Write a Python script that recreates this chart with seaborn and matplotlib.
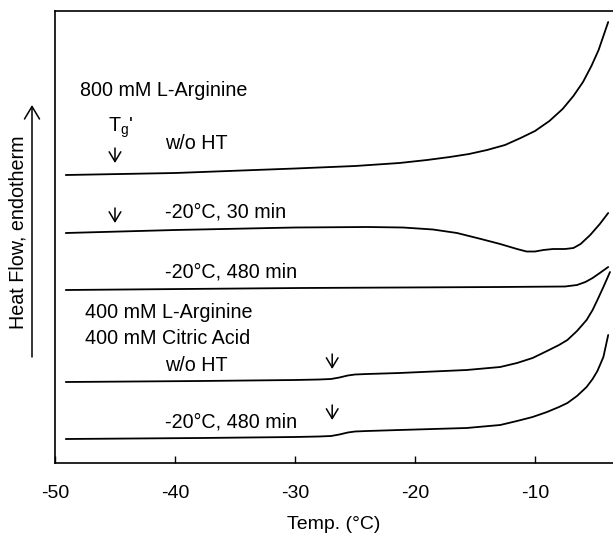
import numpy as np
import pandas as pd
import seaborn as sns
from matplotlib import pyplot as plt

# DSC traces (temperature in degC, heat flow in arbitrary offset units)
t_arg800_noht = [-49.1, -40, -30, -25, -21.3, -19, -17.1, -15.5, -14, -12.5, -11.2, -10, -8.8, -7.7,
                 -6.8, -6.0, -5.3, -4.7, -4.3, -3.9]
hf_arg800_noht = [288, 290, 294.5, 297, 300, 303, 306, 309, 313, 318, 325, 332, 342, 354,
                  367, 381, 397, 413, 427, 441]

t_arg800_30 = [-49.1, -40, -30, -24, -21, -18.5, -16.5, -14.5, -12.9, -11.5, -10.7, -10.0, -9.3, -8.5,
               -7.5, -6.8, -6.2, -5.4, -4.6, -3.9]
hf_arg800_30 = [230, 233, 235.5, 236, 235.5, 233.5, 230, 224, 219, 214, 211.5, 211.5, 213, 214,
                214, 215, 219, 228, 239, 250]

t_arg800_480 = [-49.1, -29.6, -12.9, -7.5, -6.5, -5.8, -5.2, -4.6, -3.9]
hf_arg800_480 = [173, 175, 176, 176.5, 178, 181, 185, 190, 196]

t_argcit_noht = [-49.1, -37.9, -30, -28, -27.0, -26.3, -25.6, -25, -24, -21.3, -15.7, -12.9, -11.5,
                 -10.2, -9, -8, -7.3, -6.5, -5.7, -5.2, -4.8, -4.3, -3.75]
hf_argcit_noht = [81, 82, 83, 83.5, 84, 85.5, 87.5, 88.5, 89, 90, 93, 96, 100,
                  105, 112, 118, 123, 132, 143, 153, 163, 176, 191]

t_argcit_480 = [-49.1, -37.9, -30, -28, -27.0, -26.3, -25.6, -25, -24, -21.3, -15.7, -12.9, -11.5,
                -10.2, -9, -8, -7.3, -6.5, -5.7, -5.2, -4.8, -4.3, -3.9]
hf_argcit_480 = [24, 25, 26, 26.5, 27, 28.5, 30.5, 31.5, 32, 33, 35, 38, 42,
                 46, 51, 56, 60, 67, 76, 84, 92, 106, 128]

x_ticks = [-50, -40, -30, -20, -10]


def main():
    traces = {
        "800 w/o HT": (t_arg800_noht, hf_arg800_noht),
        "800 30 min": (t_arg800_30, hf_arg800_30),
        "800 480 min": (t_arg800_480, hf_arg800_480),
        "400/400 w/o HT": (t_argcit_noht, hf_argcit_noht),
        "400/400 480 min": (t_argcit_480, hf_argcit_480),
    }
    frames = []
    for name, (t, hf) in traces.items():
        frames.append(pd.DataFrame({"Temp": t, "HF": hf, "Sample": name}))
    df = pd.concat(frames, ignore_index=True)

    sns.set_style("white")
    plt.rcParams["font.family"] = ["Liberation Sans", "DejaVu Sans"]
    plt.rcParams["axes.unicode_minus"] = False
    plt.rcParams["text.color"] = "black"

    fig = plt.figure(figsize=(6.13, 5.37), dpi=100)
    ax = fig.add_axes([0.0897, 0.1378, 0.9103, 0.8417])

    sns.lineplot(data=df, x="Temp", y="HF", hue="Sample", units="Sample",
                 estimator=None, sort=False, palette=["black"] * 5,
                 linewidth=1.3, legend=False, ax=ax)

    ax.set_xlim(-50, -3.5)
    ax.set_ylim(0, 452)
    ax.set_xticks(x_ticks)
    ax.set_yticks([])
    ax.tick_params(axis="x", direction="in", length=5, width=1, labelsize=14,
                   pad=16, bottom=True, colors="black")
    for s in ["left", "bottom", "top"]:
        ax.spines[s].set_color("black")
        ax.spines[s].set_linewidth(1.2)
    ax.spines["right"].set_visible(False)

    ax.set_xlabel("Temp. (°C)", fontsize=14, labelpad=10, color="black")
    ax.set_ylabel("")

    # Labels
    fs = 14.2
    ax.text(-47.9, 373, "800 mM L-Arginine", fontsize=fs, va="center")
    ax.text(-45.6, 335, "T$_\\mathregular{g}$'", fontsize=fs, va="center")
    ax.text(-40.8, 320, "w/o HT", fontsize=fs, va="center")
    ax.text(-40.8, 251, "-20°C, 30 min", fontsize=fs, va="center")
    ax.text(-40.8, 191, "-20°C, 480 min", fontsize=fs, va="center")
    ax.text(-47.5, 151, "400 mM L-Arginine", fontsize=fs, va="center")
    ax.text(-47.5, 125, "400 mM Citric Acid", fontsize=fs, va="center")
    ax.text(-40.8, 98, "w/o HT", fontsize=fs, va="center")
    ax.text(-40.8, 41, "-20°C, 480 min", fontsize=fs, va="center")

    # Tg' markers
    for xa, ya in [(-45.0, 315), (-45.0, 255), (-26.9, 109), (-26.9, 58)]:
        ax.annotate("", xy=(xa, ya - 15), xytext=(xa, ya),
                    arrowprops=dict(arrowstyle="->, head_length=0.5, head_width=0.3",
                                    color="black", lw=1.1, mutation_scale=14,
                                    shrinkA=0, shrinkB=0))

    # Y axis label with upward arrow
    fig.text(18 / 613, 1 - 232 / 537, "Heat Flow, endotherm", rotation=90,
             fontsize=fs, ha="center", va="center")
    ax.annotate("", xy=(32 / 613, 1 - 105 / 537), xytext=(32 / 613, 1 - 357 / 537),
                xycoords="figure fraction", textcoords="figure fraction",
                arrowprops=dict(arrowstyle="->, head_length=0.5, head_width=0.3",
                                color="black", lw=1.1, mutation_scale=18,
                                shrinkA=0, shrinkB=0))

    plt.savefig("out.png", dpi=100)
    return 0


if __name__ == "__main__":
    main()
